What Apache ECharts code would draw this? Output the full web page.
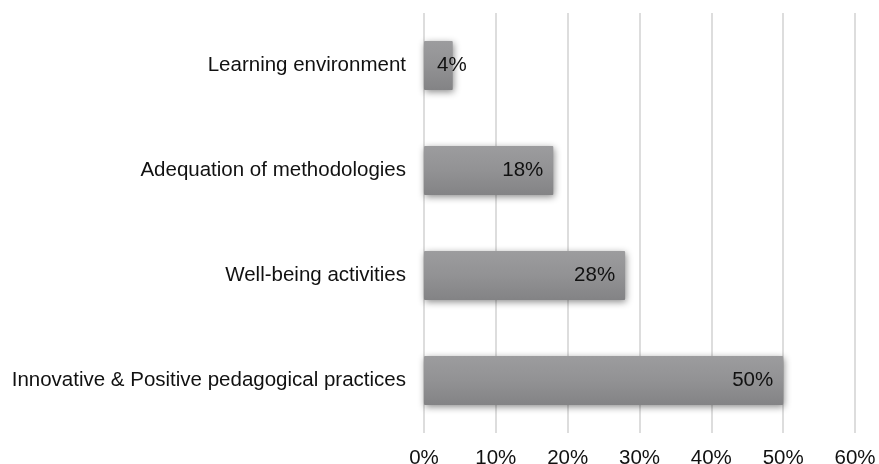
<!DOCTYPE html>
<html><head><meta charset="utf-8">
<script src="https://cdn.jsdelivr.net/npm/echarts@6/dist/echarts.min.js"></script>
<style>html,body{margin:0;padding:0;background:#fff}#c{width:879px;height:464px}</style>
</head><body><div id="c"></div>
<script>
const categories = ["Learning environment", "Adequation of methodologies", "Well-being activities", "Innovative & Positive pedagogical practices"];
const values = [4, 18, 28, 50];
const xTicks = [0, 10, 20, 30, 40, 50, 60];

const chart = echarts.init(document.getElementById('c'));
const font = "'Liberation Sans', Arial, sans-serif";
const fs = 20.5;
chart.setOption({
  animation: false,
  grid: { left: 424, right: 24, top: 13, bottom: 31, containLabel: false, outerBoundsMode: 'none' },
  xAxis: {
    type: 'value', min: xTicks[0], max: xTicks[xTicks.length - 1], interval: 10,
    axisLine: { show: false }, axisTick: { show: false },
    splitLine: { show: true, lineStyle: { color: '#d2d2d2', width: 1.5 } },
    axisLabel: { formatter: v => v + '%', color: '#111', fontSize: fs, fontFamily: font, margin: 15 }
  },
  yAxis: {
    type: 'category', data: categories, inverse: true,
    axisLine: { show: false }, axisTick: { show: false },
    axisLabel: { color: '#111', fontSize: fs, fontFamily: font, margin: 18 }
  },
  series: [{
    type: 'bar',
    barWidth: 49,
    data: values.map((v, i) => i === 0 ? {
      value: v,
      label: { position: 'insideLeft', distance: 13 }
    } : v),
    itemStyle: {
      color: new echarts.graphic.LinearGradient(0, 0, 0, 1, [
        { offset: 0, color: '#9c9c9e' },
        { offset: 0.5, color: '#929294' },
        { offset: 1, color: '#838385' }
      ]),
      shadowColor: 'rgba(0,0,0,0.45)', shadowBlur: 7, shadowOffsetX: 1, shadowOffsetY: 2,
      borderRadius: 1
    },
    label: {
      show: true, position: 'insideRight', distance: 10,
      formatter: p => p.value + '%', color: '#111', fontSize: fs, fontFamily: font
    }
  }]
});
</script></body></html>
